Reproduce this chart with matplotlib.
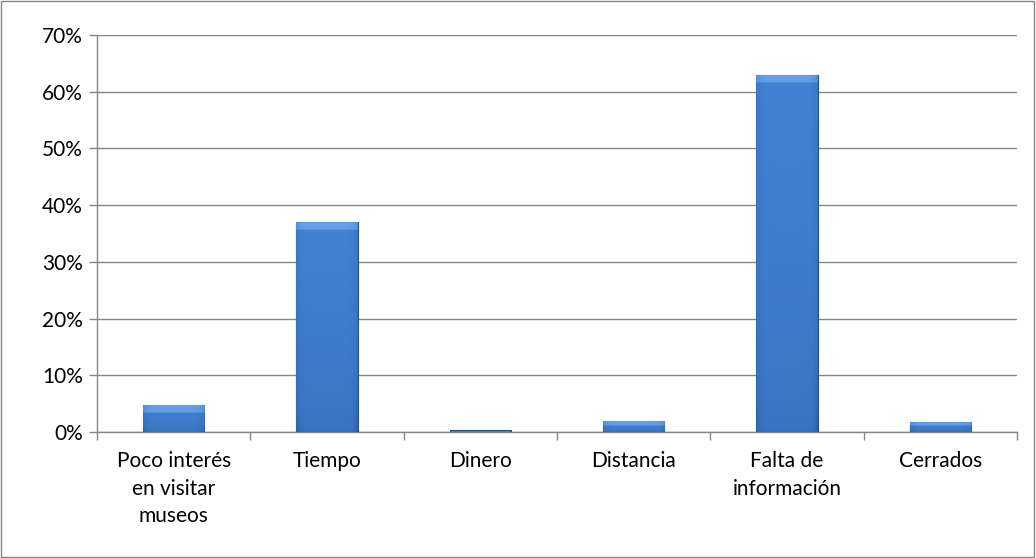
import matplotlib
matplotlib.use("Agg")
import matplotlib.pyplot as plt
import numpy as np
from matplotlib.patches import Rectangle
from matplotlib.colors import LinearSegmentedColormap

plt.rcParams.update({
    "font.family": ["Lato", "DejaVu Sans"],
    "font.size": 15,
})

categories = ["Poco interés\nen visitar\nmuseos", "Tiempo", "Dinero", "Distancia",
              "Falta de\ninformación", "Cerrados"]
values = [4.7, 37.0, 0.3, 1.9, 63.0, 1.8]

fig = plt.figure(figsize=(10.36, 5.58), dpi=100)
fig.patches.append(Rectangle((0.001, 0.001), 0.997, 0.997, transform=fig.transFigure,
                             fill=False, edgecolor="#868686", linewidth=1.0))
ax = fig.add_axes([0.0936, 0.2258, 0.888, 0.7115])

x = np.arange(len(categories))
width = 0.4
bars = ax.bar(x, values, width, color="#3f7fcf", edgecolor="#24508a", linewidth=0.8, zorder=3)

# bevelled fill: light rim at top, darker toward sides and bottom
bevel = LinearSegmentedColormap.from_list("bevel", ["#244f88", "#3671bd", "#4283d4", "#6fa8ee"])
for b in bars:
    h = b.get_height()
    x0 = b.get_x()
    if h < 0.5:
        b.set_facecolor("#5a7fae")
        continue
    yy = np.linspace(0, 1, 300)[:, None]
    xx = np.linspace(-1, 1, 60)[None, :]
    rim = min(1.3 / h, 0.4)
    img = 0.35 + 0.3 * yy ** 0.5 - 0.2 * np.abs(xx) ** 8
    img = np.where(yy > 1 - rim, 0.92 - 0.15 * np.abs(xx) ** 8, img)
    im = ax.imshow(img, cmap=bevel, vmin=0, vmax=1, origin="lower", aspect="auto",
                   extent=(x0, x0 + width, 0, h), zorder=3.5, interpolation="bilinear")
    im.set_clip_path(b)

ax.set_xlim(-0.5, len(categories) - 0.5)
ax.set_ylim(0, 70)
ax.set_yticks(np.arange(0, 71, 10))
ax.set_yticklabels([f"{v}%" for v in range(0, 71, 10)])
ax.grid(axis="y", color="#868686", linewidth=1.0, zorder=0)
ax.set_axisbelow(True)

ax.set_xticks(x)
ax.set_xticklabels(categories, linespacing=1.45, va="top")
ax.set_xticks(np.arange(-0.5, len(categories)), minor=True)
ax.tick_params(axis="x", which="major", length=0, pad=14)
ax.tick_params(axis="x", which="minor", length=6, color="#868686", width=1.0)
ax.tick_params(axis="y", length=6, color="#868686", width=1.0, pad=4)

for side in ["top", "right"]:
    ax.spines[side].set_visible(False)
for side in ["left", "bottom"]:
    ax.spines[side].set_color("#868686")
    ax.spines[side].set_linewidth(1.0)

fig.savefig("out.png", dpi=100)
